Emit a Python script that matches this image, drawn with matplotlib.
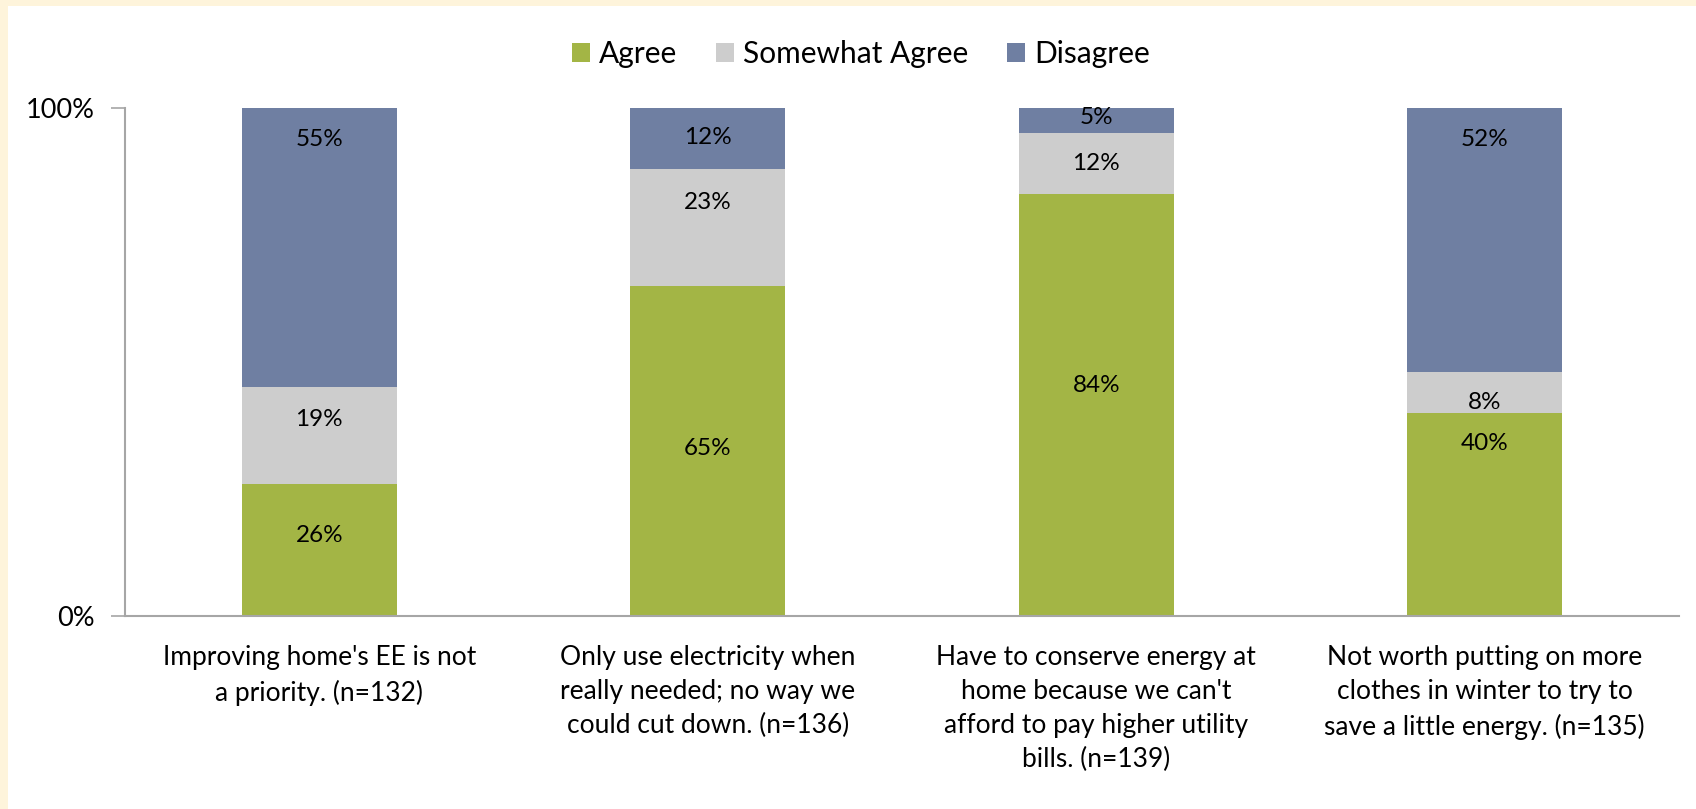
import numpy as np
import matplotlib
matplotlib.use("Agg")
import matplotlib.pyplot as plt
from matplotlib.patches import Rectangle

plt.rcParams["font.family"] = ["Lato", "DejaVu Sans"]

categories = [
    "Improving home's EE is not\na priority. (n=132)",
    "Only use electricity when\nreally needed; no way we\ncould cut down. (n=136)",
    "Have to conserve energy at\nhome because we can't\nafford to pay higher utility\nbills. (n=139)",
    "Not worth putting on more\nclothes in winter to try to\nsave a little energy. (n=135)",
]
series = ["Agree", "Somewhat Agree", "Disagree"]
agree = [26, 65, 84, 40]
somewhat = [19, 23, 12, 8]
disagree = [55, 12, 5, 52]
colors = ["#A3B545", "#CDCDCD", "#6F7FA2"]

# where each value label sits (fraction of bar height), labels were hand placed
label_y = [
    [0.158, 0.329, 0.453, 0.340],
    [0.387, 0.814, 0.891, 0.421],
    [0.938, 0.942, 0.981, 0.938],
]

fig = plt.figure(figsize=(16.96, 8.09), dpi=100)
fig.patch.set_facecolor("#FEF4DB")
# white panel inside cream border
fig.add_artist(Rectangle((8 / 1696, 0), 1, 1 - 6 / 809,
                         transform=fig.transFigure, facecolor="white",
                         edgecolor="none", zorder=0))

ax = fig.add_axes([125 / 1696, 1 - 616 / 809, (1679 - 125) / 1696, (616 - 108) / 809])
ax.set_facecolor("none")

x = np.arange(len(categories))
data = np.array([agree, somewhat, disagree], dtype=float)
frac = data / data.sum(axis=0)

bottom = np.zeros(len(categories))
for i, name in enumerate(series):
    ax.bar(x, frac[i], 0.4, bottom=bottom, color=colors[i], label=name, zorder=2)
    for j in range(len(categories)):
        ax.text(x[j], label_y[i][j], f"{int(data[i][j])}%",
                ha="center", va="center", fontsize=17.5, color="black", zorder=3)
    bottom += frac[i]

ax.set_xlim(-0.5, len(categories) - 0.5)
ax.set_ylim(0, 1)
ax.set_yticks([0, 1])
ax.set_yticklabels(["0%", "100%"], fontsize=19.5)
ax.set_xticks(x)
ax.set_xticklabels(categories, fontsize=19, linespacing=1.45)
ax.tick_params(axis="x", length=0, pad=21)
ax.tick_params(axis="y", length=10, color="#A6A6A6", width=1.2, pad=12)
for s in ["top", "right"]:
    ax.spines[s].set_visible(False)
for s in ["left", "bottom"]:
    ax.spines[s].set_color("#A6A6A6")
    ax.spines[s].set_linewidth(1.5)

ax.legend(loc="center", bbox_to_anchor=(861 / 1696, 1 - 54 / 809),
          bbox_transform=fig.transFigure, ncol=3, frameon=False, fontsize=21.5,
          handlelength=0.6, handleheight=0.6, handletextpad=0.3, columnspacing=1.3)

fig.savefig("out.png", dpi=100, facecolor=fig.get_facecolor())
